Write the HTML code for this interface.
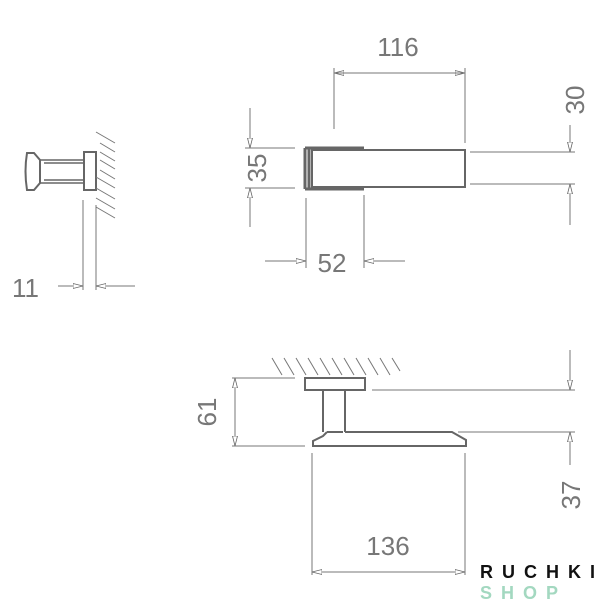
<!DOCTYPE html><html><head><style>body{margin:0;background:#fff}svg{display:block}</style></head><body>
<svg width="600" height="600" viewBox="0 0 600 600" xmlns="http://www.w3.org/2000/svg" font-family="Liberation Sans, sans-serif">
<defs><marker id="a" markerWidth="10" markerHeight="6" refX="10" refY="3" orient="auto" markerUnits="userSpaceOnUse"><path d="M0,0.5 L10,3 L0,5.5 Z" fill="#fff" stroke="#666" stroke-width="0.8"/></marker></defs>
<g stroke="#777" stroke-width="1" fill="none">
<path d="M27,153 L34,153 L40,160 L40,183 L34,190 L27,190 Q24,171 27,153 Z" stroke="#666" stroke-width="2"/>
<path d="M40,160 L84,160 M40,183 L84,183 M44,163 L84,163 M44,180 L84,180" stroke="#666" stroke-width="1.5"/>
<rect x="84" y="152" width="12" height="38" stroke="#666" stroke-width="2"/>
<path d="M96,132 L115,143 M100,143 L115,152 M100,152 L115,161 M100,160 L115,169 M100,170 L115,179 M96,177 L115,188 M96,188 L115,199 M96,198 L115,209 M96,207 L115,218"/>
<path d="M83,200 L83,290 M96,205 L96,290"/>
<path d="M58,286 L83,286" marker-end="url(#a)"/><path d="M135,286 L96,286" marker-end="url(#a)"/>
<path d="M305,148 L305,189 M309,149 L309,188 M305,148 L364,148 M305,189 L364,189" stroke="#666" stroke-width="3"/>
<rect x="312" y="150" width="153" height="37" stroke="#666" stroke-width="2"/>
<path d="M334,68 L334,129 M465,68 L465,143"/>
<path d="M380,73 L334,73" marker-end="url(#a)"/><path d="M420,73 L465,73" marker-end="url(#a)"/><path d="M334,73 L465,73"/>
<path d="M245,148 L295,148 M245,188 L295,188"/>
<path d="M250,108 L250,148" marker-end="url(#a)"/><path d="M250,227 L250,188" marker-end="url(#a)"/>
<path d="M306,198 L306,268 M364,195 L364,268"/>
<path d="M265,261 L306,261" marker-end="url(#a)"/><path d="M405,261 L364,261" marker-end="url(#a)"/>
<path d="M470,152 L575,152 M470,184 L575,184"/>
<path d="M570,125 L570,152" marker-end="url(#a)"/><path d="M570,225 L570,184" marker-end="url(#a)"/>
<path d="M272,358 L282,375 M284,358 L294,375 M296,358 L306,375 M308,358 L318,375 M320,358 L330,375 M332,358 L342,375 M344,358 L354,375 M356,358 L366,375 M368,358 L378,375 M380,358 L390,375 M392,358 L400,371" />
<rect x="305" y="378" width="60" height="12" stroke="#666" stroke-width="2"/>
<path d="M323,390 L323,432 M345,390 L345,432 M327,432 L343,432" stroke="#666" stroke-width="2"/>
<path d="M345,432 L452,432 L466,440 L466,446 L313,446 L313,441 L323,436 L327,432" stroke="#666" stroke-width="2"/>
<path d="M232,378 L295,378 M232,446 L305,446"/>
<path d="M235,412 L235,378" marker-end="url(#a)"/><path d="M235,412 L235,446" marker-end="url(#a)"/>
<path d="M372,390 L575,390 M458,432 L575,432"/>
<path d="M570,350 L570,390" marker-end="url(#a)"/><path d="M570,465 L570,432" marker-end="url(#a)"/>
<path d="M312,453 L312,575 M465,453 L465,575"/>
<path d="M388,572 L312,572" marker-end="url(#a)"/><path d="M388,572 L465,572" marker-end="url(#a)"/>
</g>
<g fill="#777" font-size="26">
<text x="12" y="297">11</text>
<text x="398" y="56" text-anchor="middle">116</text>
<text x="332" y="272" text-anchor="middle">52</text>
<text x="388" y="555" text-anchor="middle">136</text>
<text transform="translate(266,168) rotate(-90)" text-anchor="middle">35</text>
<text transform="translate(584,100) rotate(-90)" text-anchor="middle">30</text>
<text transform="translate(216,412) rotate(-90)" text-anchor="middle">61</text>
<text transform="translate(580,495) rotate(-90)" text-anchor="middle">37</text>
</g>
<text x="480" y="578" font-size="18" font-weight="bold" letter-spacing="9" fill="#111">RUCHKI</text>
<text x="480" y="599" font-size="18" font-weight="bold" letter-spacing="9" fill="#a3d8c0">SHOP</text>
</svg></body></html>
